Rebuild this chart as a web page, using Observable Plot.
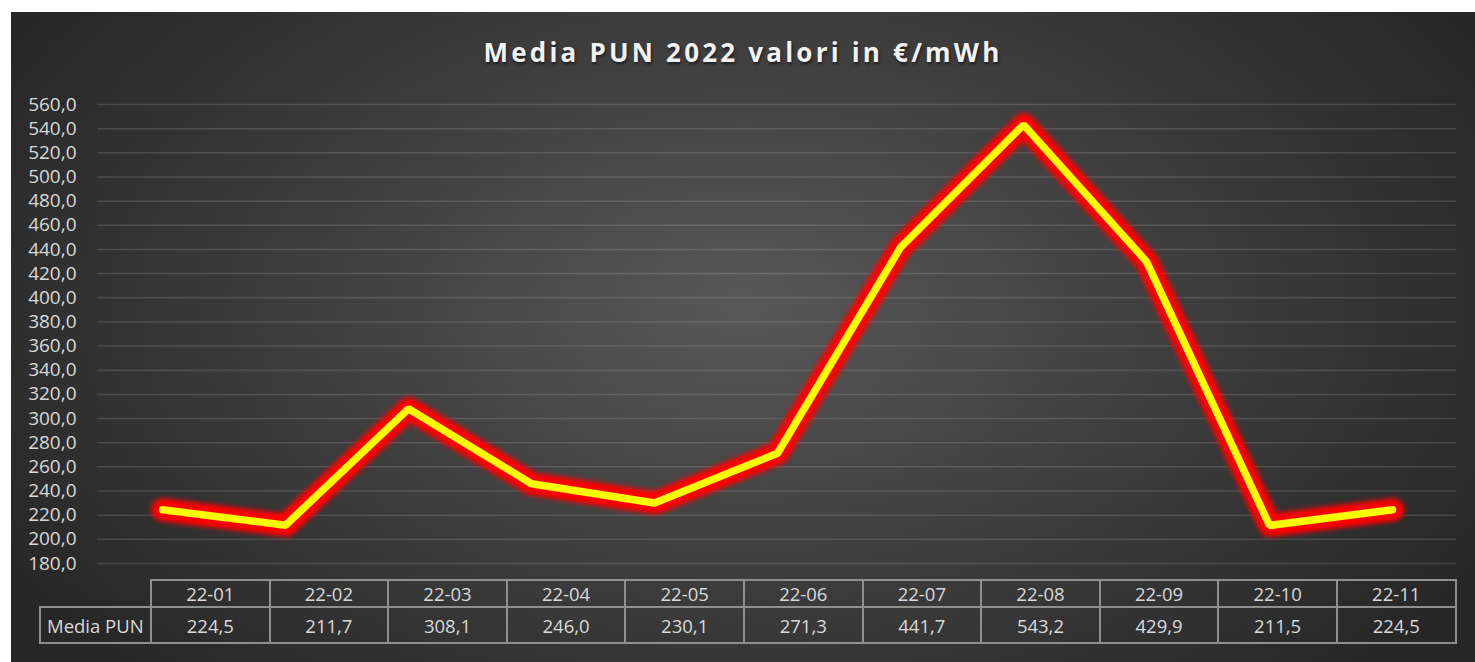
<!DOCTYPE html>
<html>
<head>
<meta charset="utf-8">
<script src="https://cdn.jsdelivr.net/npm/d3@7"></script>
<script src="https://cdn.jsdelivr.net/npm/@observablehq/plot@0.6"></script>
<style>
  html, body { margin: 0; padding: 0; background: #fff; width: 1475px; height: 662px; overflow: hidden; }
  #panel { position: absolute; left: 11px; top: 12px; width: 1464px; height: 650px;
    background: radial-gradient(ellipse 58% 80% at 50% 45%, #585858 0%, #3c3c3c 55%, #272727 100%); }
  #chart { position: absolute; left: 0; top: 0; }
  #title { position: absolute; left: 11px; width: 1464px; top: 34px; text-align: center;
    font-family: "Open Sans", sans-serif; font-weight: 700; font-size: 26px; letter-spacing: 3.2px;
    color: #f2f2f2; text-shadow: 1px 2px 3px rgba(0,0,0,0.55); }
  table { position: absolute; left: 39px; top: 579px; border-collapse: collapse; table-layout: fixed;
    font-family: "Open Sans", sans-serif; font-size: 18.5px; color: #d9d9d9; }
  td { border: 2px solid #8f8f8f; text-align: center; padding: 0; white-space: nowrap; }
  tr.head td { height: 24px; }
  tr.vals td { height: 34px; }
  td.blank { border: none; }
  td.lab { text-align: left; padding-left: 6px; }
</style>
</head>
<body>
<div id="panel"></div>
<div id="chart"></div>
<div id="title"></div>
<table id="tbl"></table>
<script>
const titleText = "Media PUN 2022 valori in €/mWh";
const seriesName = "Media PUN";
const months = ["22-01","22-02","22-03","22-04","22-05","22-06","22-07","22-08","22-09","22-10","22-11"];
const values = [224.5, 211.7, 308.1, 246.0, 230.1, 271.3, 441.7, 543.2, 429.9, 211.5, 224.5];
const yTicks = [180,200,220,240,260,280,300,320,340,360,380,400,420,440,460,480,500,520,540,560];

const fmt = v => v.toFixed(1).replace(".", ",");
const data = months.map((m, i) => ({month: m, value: values[i]}));

document.getElementById("title").textContent = titleText;

const chart = Plot.plot({
  width: 1475,
  height: 662,
  marginLeft: 97,
  marginRight: 19,
  marginTop: 104,
  marginBottom: 99,
  style: {background: "transparent", color: "#d9d9d9", fontFamily: "Open Sans, sans-serif", fontSize: "19px"},
  x: {type: "point", domain: months, padding: 0.5, axis: null},
  y: {domain: [180, 560], ticks: yTicks, tickFormat: fmt, tickSize: 0, tickPadding: 21, label: null},
  marks: [
    Plot.ruleY(yTicks, {stroke: "#ffffff", strokeOpacity: 0.13, strokeWidth: 1.5}),
    Plot.lineY(data, {x: "month", y: "value", stroke: "#ff0000", strokeWidth: 23,
      strokeLinecap: "round", strokeLinejoin: "round"}),
    Plot.lineY(data, {x: "month", y: "value", stroke: "#ffff00", strokeWidth: 7.5,
      strokeLinecap: "round", strokeLinejoin: "miter"})
  ]
});
const lineGroups = d3.select(chart).selectAll('g[aria-label="line"]').nodes();
if (lineGroups.length) d3.select(lineGroups[0]).style("filter", "blur(2.5px)");
document.getElementById("chart").appendChild(chart);

// data table
const tbl = d3.select("#tbl");
const colgroup = tbl.append("colgroup");
colgroup.append("col").style("width", "111px");
months.forEach(() => colgroup.append("col").style("width", "118.6px"));
const head = tbl.append("tr").attr("class", "head");
head.append("td").attr("class", "blank");
months.forEach(m => head.append("td").text(m));
const row = tbl.append("tr").attr("class", "vals");
row.append("td").attr("class", "lab").text(seriesName);
values.forEach(v => row.append("td").text(fmt(v)));
</script>
</body>
</html>
